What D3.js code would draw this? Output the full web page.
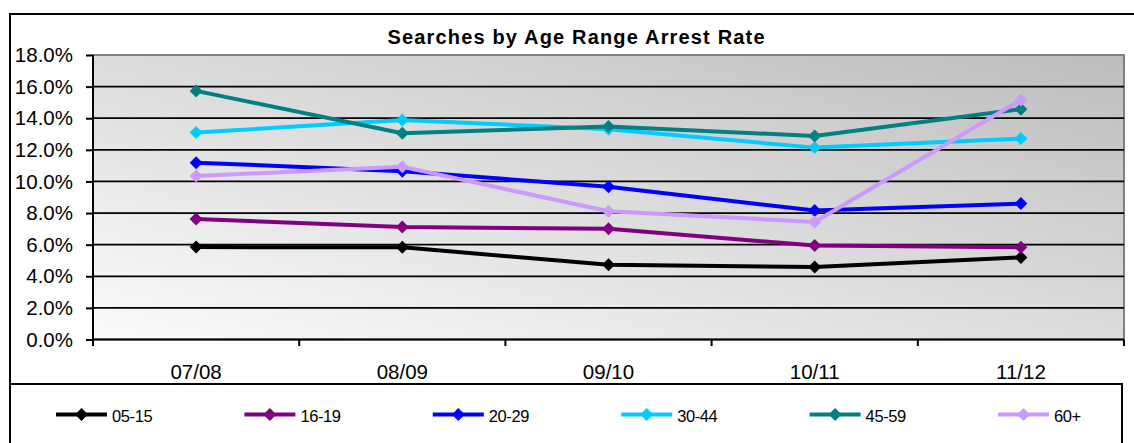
<!DOCTYPE html>
<html>
<head>
<meta charset="utf-8">
<script src="https://cdn.jsdelivr.net/npm/d3@7"></script>
<style>
  html, body { margin: 0; padding: 0; background: #fff; }
  svg { display: block; font-family: Arial, "Liberation Sans", sans-serif; }
</style>
</head>
<body>
<svg id="chart" width="1134" height="443"></svg>
<script>
// ---- Data ----
const categories = ["07/08", "08/09", "09/10", "10/11", "11/12"];
const seriesNames = ["05-15", "16-19", "20-29", "30-44", "45-59", "60+"];
const seriesColors = ["#000000", "#800080", "#0000FF", "#00CCFF", "#008080", "#CC99FF"];
const values_05_15 = [0.0585, 0.0583, 0.0473, 0.0458, 0.0519];
const values_16_19 = [0.0763, 0.0712, 0.0700, 0.0594, 0.0583];
const values_20_29 = [0.1119, 0.1065, 0.0966, 0.0816, 0.0860];
const values_30_44 = [0.1309, 0.1389, 0.1330, 0.1214, 0.1271];
const values_45_59 = [0.1573, 0.1305, 0.1347, 0.1288, 0.1457];
const values_60p   = [0.1034, 0.1093, 0.0811, 0.0744, 0.1516];
const yTicks = [0, 0.02, 0.04, 0.06, 0.08, 0.10, 0.12, 0.14, 0.16, 0.18];
const titleText = "Searches by Age Range Arrest Rate";

const seriesValues = [values_05_15, values_16_19, values_20_29, values_30_44, values_45_59, values_60p];
const series = seriesNames.map((name, i) => ({
  name, color: seriesColors[i],
  points: categories.map((c, j) => ({ cat: c, v: seriesValues[i][j] }))
}));

// ---- Layout ----
const svg = d3.select("#chart");
const plot = { left: 93, right: 1124, top: 55, bottom: 339.5 };

// outer chart frame
svg.append("rect").attr("x", 10).attr("y", 14).attr("width", 1140).attr("height", 460)
  .attr("fill", "#fff").attr("stroke", "#000").attr("stroke-width", 2);

// title
svg.append("text").attr("x", 576).attr("y", 43.5).attr("text-anchor", "middle")
  .attr("font-size", 20).attr("font-weight", "bold")
  .attr("textLength", 377).attr("lengthAdjust", "spacing")
  .text(titleText);

// scales
const x = d3.scaleBand().domain(categories).range([plot.left, plot.right]).padding(0);
const y = d3.scaleLinear().domain([0, 0.18]).range([plot.bottom, plot.top]);

// gradient background
const defs = svg.append("defs");
const grad = defs.append("linearGradient").attr("id", "bg")
  .attr("x1", "0%").attr("y1", "100%").attr("x2", "100%").attr("y2", "0%");
grad.append("stop").attr("offset", "0%").attr("stop-color", "#fbfbfb");
grad.append("stop").attr("offset", "100%").attr("stop-color", "#bdbdbd");

svg.append("rect").attr("x", plot.left).attr("y", plot.top)
  .attr("width", plot.right - plot.left).attr("height", plot.bottom - plot.top)
  .attr("fill", "url(#bg)").attr("stroke", "#808080").attr("stroke-width", 2);

// gridlines
svg.append("g").selectAll("line").data(yTicks.filter(d => d > 0 && d < 0.18)).join("line")
  .attr("x1", plot.left).attr("x2", plot.right)
  .attr("y1", d => y(d)).attr("y2", d => y(d))
  .attr("stroke", "#000").attr("stroke-width", 1.8);

// y axis
const yAxis = d3.axisLeft(y).tickValues(yTicks).tickFormat(d3.format(".1%")).tickSize(7).tickPadding(13);
const gy = svg.append("g").attr("transform", `translate(${plot.left},0)`).call(yAxis);
gy.select(".domain").attr("stroke", "#000").attr("stroke-width", 2).attr("d", `M0,${plot.top}V${plot.bottom + 6}`);
gy.selectAll(".tick line").attr("stroke", "#000").attr("stroke-width", 2);
gy.selectAll(".tick text").attr("font-size", 20.5).attr("fill", "#000")
  .attr("font-family", "Arial, 'Liberation Sans', sans-serif");

// x axis: ticks at category boundaries
const boundaries = categories.map(c => x(c)).concat([plot.right]);
const gx = svg.append("g");
gx.append("line").attr("x1", plot.left).attr("x2", plot.right)
  .attr("y1", plot.bottom).attr("y2", plot.bottom).attr("stroke", "#000").attr("stroke-width", 2);
gx.selectAll("line.tk").data(boundaries).join("line").attr("class", "tk")
  .attr("x1", d => d).attr("x2", d => d).attr("y1", plot.bottom).attr("y2", plot.bottom + 6.5)
  .attr("stroke", "#000").attr("stroke-width", 2);
gx.selectAll("text").data(categories).join("text")
  .attr("x", d => x(d) + x.bandwidth() / 2).attr("y", 379)
  .attr("text-anchor", "middle").attr("font-size", 20.5).attr("fill", "#000")
  .text(d => d);

// lines
const line = d3.line().x(d => x(d.cat) + x.bandwidth() / 2).y(d => y(d.v));
const diamond = d3.symbol().type(d3.symbolDiamond2 || d3.symbolDiamond).size(90);
function diamondPath(r) { return `M0,${-r}L${r},0L0,${r}L${-r},0Z`; }

const gs = svg.append("g").selectAll("g").data(series).join("g");
gs.append("path").attr("d", d => line(d.points)).attr("fill", "none")
  .attr("stroke", d => d.color).attr("stroke-width", 4).attr("stroke-linejoin", "round");
gs.selectAll("path.m").data(d => d.points.map(p => ({ ...p, color: d.color }))).join("path")
  .attr("class", "m")
  .attr("transform", p => `translate(${x(p.cat) + x.bandwidth() / 2},${y(p.v)})`)
  .attr("d", diamondPath(6.5)).attr("fill", p => p.color);

// legend box
svg.append("rect").attr("x", 10).attr("y", 384).attr("width", 1112).attr("height", 80)
  .attr("fill", "#fff").attr("stroke", "#000").attr("stroke-width", 2);

const lx = d3.scalePoint().domain(seriesNames).range([56, 998]);
const lg = svg.append("g").selectAll("g").data(series).join("g")
  .attr("transform", d => `translate(${lx(d.name)},414.5)`);
lg.append("line").attr("x1", 0).attr("x2", 51).attr("y1", 0).attr("y2", 0)
  .attr("stroke", d => d.color).attr("stroke-width", 4);
lg.append("path").attr("transform", "translate(25.5,0)").attr("d", diamondPath(6.5))
  .attr("fill", d => d.color);
lg.append("text").attr("x", 56).attr("y", 7).attr("font-size", 16.5)
  .attr("letter-spacing", -0.4).attr("fill", "#000").text(d => d.name);
</script>
</body>
</html>
